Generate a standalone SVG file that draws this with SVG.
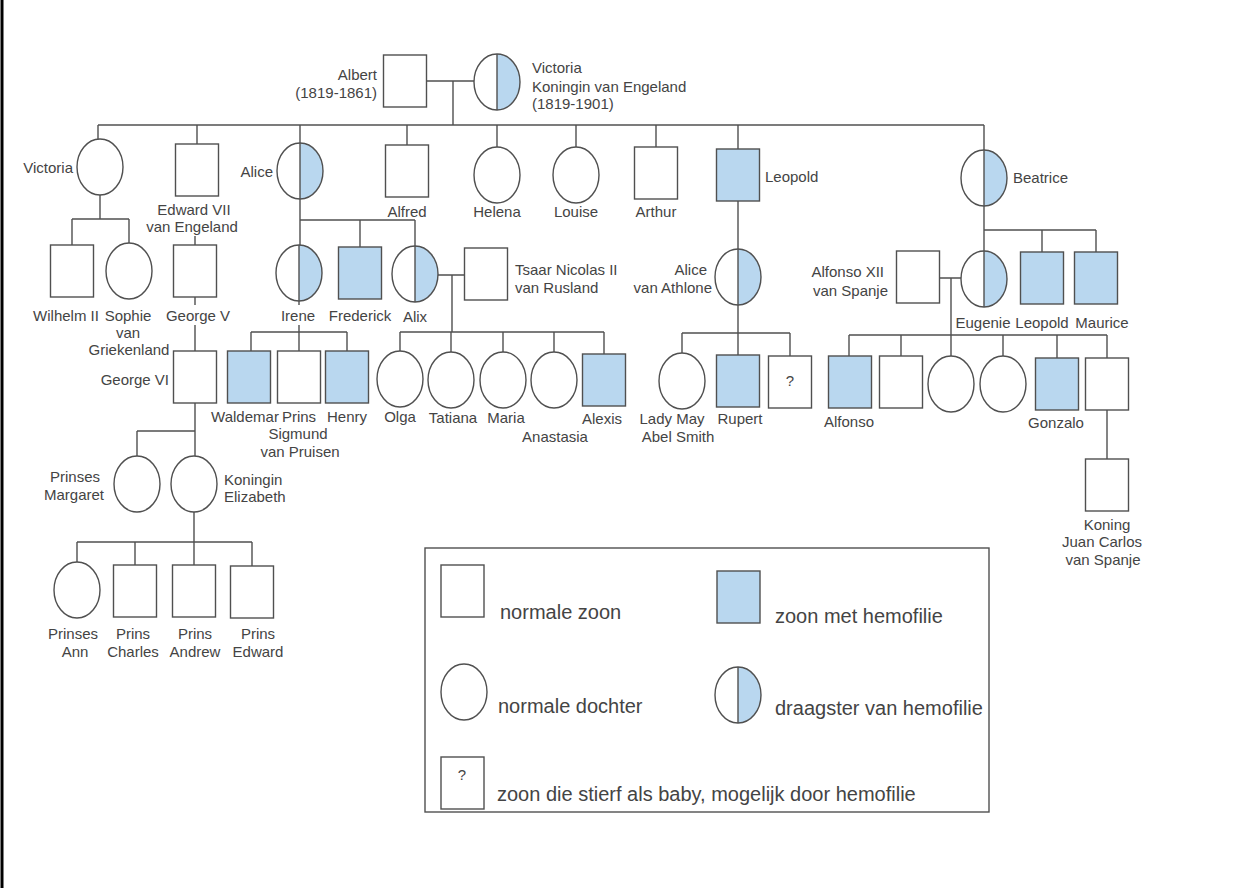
<svg xmlns="http://www.w3.org/2000/svg" xmlns:xlink="http://www.w3.org/1999/xlink" width="1235" height="888" viewBox="0 0 1235 888">
<style>
.ln{stroke:#505050;stroke-width:1.4;fill:none}
.sh{stroke:#505050;stroke-width:1.4;fill:#fff}
.hb{stroke:#505050;stroke-width:1.4;fill:#b9d7ef}
.bl{fill:#b9d7ef;stroke:none}
text{font-family:"Liberation Sans",Arial,sans-serif;font-size:15px;fill:#444;text-anchor:middle}
text.s{text-anchor:start}
text.e{text-anchor:end}
text.lg{font-size:20px;text-anchor:start}
</style>
<defs>
<rect id="m" class="sh" x="-21.5" y="-26" width="43" height="52"/>
<rect id="h" class="hb" x="-21.5" y="-26" width="43" height="52"/>
<ellipse id="f" class="sh" rx="23" ry="28"/>
<g id="c">
<ellipse rx="23" ry="28" fill="#fff"/>
<path class="bl" d="M0,-28 A23,28 0 0 1 0,28 Z"/>
<line class="ln" x1="0" y1="-28" x2="0" y2="28"/>
<ellipse class="ln" rx="23" ry="28"/>
</g>
</defs>
<rect x="0" y="0" width="1235" height="888" fill="#fff"/>
<line x1="2" y1="0" x2="2" y2="888" stroke="#000" stroke-width="3"/>

<g id="connectors" class="ln">
<path d="M426,81H474M453,81V125"/>
<path d="M98,125H984"/>
<path d="M98,125V139M197,125V144M300,125V143M407,125V145M497,125V147M576,125V147M656,125V147M738,125V149M984,125V150"/>
<path d="M100,195V219M72,219H129M72,219V245M129,219V243"/>
<path d="M195,236V245"/>
<path d="M195,297V305M195,325V351"/>
<path d="M195,403V456M137,431H195M137,431V456"/>
<path d="M194,512V565M77,542H252M77,542V562M135,542V565M252,542V566"/>
<path d="M300,199V245M300,220H415M360,220V247M415,220V246"/>
<path d="M299,301V305M299,325V351M251,332H347M251,332V351M347,332V351"/>
<path d="M438,275H464M452,275V332M400,332H604M400,332V351M451,332V352M503,332V352M554,332V352M604,332V354"/>
<path d="M738,201V249"/>
<path d="M738,305V355M682,333H790M682,333V353M790,333V356"/>
<path d="M984,206V251M984,230H1096M1042,230V252M1096,230V252"/>
<path d="M939,278H961M951,278V335M849,335H1107M849,335V356M901,335V356M951,335V356M1003,335V356M1057,335V358M1107,335V358"/>
<path d="M1107,410V459"/>
</g>

<g id="albert"><use xlink:href="#m" x="405" y="81"/><text class="e" x="377" y="80">Albert</text><text class="e" x="377" y="98">(1819-1861)</text></g>
<g id="victoria-queen"><use xlink:href="#c" x="497" y="82"/><text class="s" x="532" y="73">Victoria</text><text class="s" x="532" y="92">Koningin van Engeland</text><text class="s" x="532" y="109">(1819-1901)</text></g>

<g id="victoria"><use xlink:href="#f" x="100" y="167"/><text class="e" x="73" y="173">Victoria</text></g>
<g id="edward7"><use xlink:href="#m" x="197" y="170"/><text x="194" y="215">Edward VII</text><text x="192" y="232">van Engeland</text></g>
<g id="alice"><use xlink:href="#c" x="300" y="171"/><text class="e" x="273" y="177">Alice</text></g>
<g id="alfred"><use xlink:href="#m" x="407" y="171"/><text x="407" y="217">Alfred</text></g>
<g id="helena"><use xlink:href="#f" x="497" y="175"/><text x="497" y="217">Helena</text></g>
<g id="louise"><use xlink:href="#f" x="576" y="175"/><text x="576" y="217">Louise</text></g>
<g id="arthur"><use xlink:href="#m" x="656" y="173"/><text x="656" y="217">Arthur</text></g>
<g id="leopold"><use xlink:href="#h" x="738" y="175"/><text class="s" x="765" y="182">Leopold</text></g>
<g id="beatrice"><use xlink:href="#c" x="984" y="178"/><text class="s" x="1013" y="183">Beatrice</text></g>

<g id="wilhelm2"><use xlink:href="#m" x="72" y="271"/><text x="66" y="321">Wilhelm II</text></g>
<g id="sophie"><use xlink:href="#f" x="129" y="271"/><text x="128" y="321">Sophie</text><text x="128" y="338">van</text><text x="129" y="355">Griekenland</text></g>
<g id="george5"><use xlink:href="#m" x="195" y="271"/><text x="198" y="321">George V</text></g>
<g id="irene"><use xlink:href="#c" x="299" y="273"/><text x="298" y="321">Irene</text></g>
<g id="frederick"><use xlink:href="#h" x="360" y="273"/><text x="360" y="321">Frederick</text></g>
<g id="alix"><use xlink:href="#c" x="415" y="274"/><text x="415" y="322">Alix</text></g>
<g id="nicolas"><use xlink:href="#m" x="486" y="274"/><text class="s" x="515" y="275">Tsaar Nicolas II</text><text class="s" x="515" y="293">van Rusland</text></g>
<g id="alice-athlone"><use xlink:href="#c" x="738" y="277"/><text class="e" x="707" y="275">Alice</text><text class="e" x="712" y="293">van Athlone</text></g>
<g id="alfonso12"><use xlink:href="#m" x="918" y="277"/><text class="e" x="884" y="277">Alfonso XII</text><text class="e" x="888" y="296">van Spanje</text></g>
<g id="eugenie"><use xlink:href="#c" x="984" y="279"/><text x="983" y="328">Eugenie</text></g>
<g id="leopold2"><use xlink:href="#h" x="1042" y="278"/><text x="1042" y="328">Leopold</text></g>
<g id="maurice"><use xlink:href="#h" x="1096" y="278"/><text x="1102" y="328">Maurice</text></g>

<g id="george6"><use xlink:href="#m" x="195" y="377"/><text class="e" x="169" y="385">George VI</text></g>
<g id="waldemar"><use xlink:href="#h" x="249" y="377"/><text x="245" y="422">Waldemar</text></g>
<g id="sigmund"><use xlink:href="#m" x="299" y="377"/><text x="299" y="422">Prins</text><text x="298" y="439">Sigmund</text><text x="300" y="457">van Pruisen</text></g>
<g id="henry"><use xlink:href="#h" x="347" y="377"/><text x="347" y="422">Henry</text></g>
<g id="olga"><use xlink:href="#f" x="400" y="379"/><text x="400" y="422">Olga</text></g>
<g id="tatiana"><use xlink:href="#f" x="451" y="380"/><text x="453" y="423">Tatiana</text></g>
<g id="maria"><use xlink:href="#f" x="503" y="380"/><text x="506" y="423">Maria</text></g>
<g id="anastasia"><use xlink:href="#f" x="554" y="380"/><text x="555" y="442">Anastasia</text></g>
<g id="alexis"><use xlink:href="#h" x="604" y="380"/><text x="602" y="424">Alexis</text></g>
<g id="lady-may"><use xlink:href="#f" x="682" y="381"/><text x="672" y="424">Lady May</text><text x="678" y="442">Abel Smith</text></g>
<g id="rupert"><use xlink:href="#h" x="738" y="381"/><text x="740" y="424">Rupert</text></g>
<g id="unknown-son"><use xlink:href="#m" x="790" y="382"/><text x="790" y="386">?</text></g>
<g id="alfonso"><use xlink:href="#h" x="850" y="382"/><text x="849" y="427">Alfonso</text></g>
<g id="son-b"><use xlink:href="#m" x="901" y="382"/></g>
<g id="daughter-a"><use xlink:href="#f" x="951" y="384"/></g>
<g id="daughter-b"><use xlink:href="#f" x="1003" y="384"/></g>
<g id="gonzalo"><use xlink:href="#h" x="1057" y="384"/><text x="1056" y="428">Gonzalo</text></g>
<g id="son-c"><use xlink:href="#m" x="1107" y="384"/></g>

<g id="margaret"><use xlink:href="#f" x="137" y="484"/><text x="75" y="482">Prinses</text><text x="74" y="500">Margaret</text></g>
<g id="elizabeth"><use xlink:href="#f" x="194" y="484"/><text class="s" x="224" y="485">Koningin</text><text class="s" x="224" y="502">Elizabeth</text></g>
<g id="juan-carlos"><use xlink:href="#m" x="1107" y="485"/><text x="1107" y="530">Koning</text><text x="1102" y="547">Juan Carlos</text><text x="1103" y="565">van Spanje</text></g>

<g id="ann"><use xlink:href="#f" x="77" y="590"/><text x="73" y="639">Prinses</text><text x="75" y="657">Ann</text></g>
<g id="charles"><use xlink:href="#m" x="135" y="591"/><text x="133" y="639">Prins</text><text x="133" y="657">Charles</text></g>
<g id="andrew"><use xlink:href="#m" x="194" y="591"/><text x="195" y="639">Prins</text><text x="195" y="657">Andrew</text></g>
<g id="edward"><use xlink:href="#m" x="252" y="592"/><text x="258" y="639">Prins</text><text x="258" y="657">Edward</text></g>

<g id="legend">
<rect class="ln" x="425" y="548" width="564" height="264"/>
<use xlink:href="#m" x="462.5" y="591"/>
<text class="lg" x="500" y="619">normale zoon</text>
<use xlink:href="#h" x="738.5" y="597"/>
<text class="lg" x="775" y="623">zoon met hemofilie</text>
<use xlink:href="#f" x="464" y="692"/>
<text class="lg" x="498" y="713">normale dochter</text>
<use xlink:href="#c" x="738" y="695"/>
<text class="lg" x="775" y="715">draagster van hemofilie</text>
<use xlink:href="#m" x="462.5" y="783"/>
<text x="462" y="780">?</text>
<text class="lg" x="497" y="801">zoon die stierf als baby, mogelijk door hemofilie</text>
</g>
</svg>
